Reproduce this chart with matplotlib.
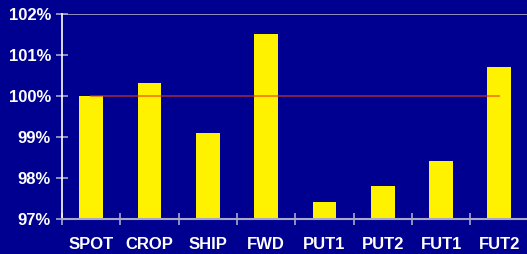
import numpy as np
import matplotlib
matplotlib.use('Agg')
import matplotlib.pyplot as plt

categories = ['SPOT', 'CROP', 'SHIP', 'FWD', 'PUT1', 'PUT2', 'FUT1', 'FUT2']
values = [100.0, 100.3, 99.1, 101.5, 97.4, 97.8, 98.4, 100.7]
reference = 100.0
ytick_vals = [97, 98, 99, 100, 101, 102]

bg = '#000090'
grey = '#a8a8c8'

plt.rcParams['font.family'] = ['Liberation Sans', 'DejaVu Sans']

fig = plt.figure(figsize=(5.27, 2.54), dpi=100, facecolor=bg)
ax = fig.add_axes([62 / 527, 35.3 / 254, 466.6 / 527, 205.2 / 254], facecolor=bg)

x = np.arange(len(categories))
ax.bar(x, np.array(values) - 97, bottom=97, width=0.41, color='#fff200', zorder=2)
ax.plot([x[0], x[-1]], [reference, reference], color='#e83818', alpha=0.6, lw=1.3, zorder=3)

ax.set_xlim(-0.5, len(categories) - 0.5)
ax.set_ylim(97, 102)

ax.set_yticks(ytick_vals)
ax.set_yticklabels([f'{v}%' for v in ytick_vals])
ax.tick_params(axis='y', direction='inout', length=8, width=1.2, color=grey,
               labelcolor='white', labelsize=12, pad=4)
for t in ax.get_yticklabels():
    t.set_fontweight('bold')

ax.set_xticks(x)
ax.set_xticklabels(categories, fontweight='bold')
ax.set_xticks(np.arange(len(categories) + 1) - 0.5, minor=True)
ax.tick_params(axis='x', which='major', length=0, labelcolor='white', labelsize=12, pad=13)
ax.tick_params(axis='x', which='minor', direction='inout', length=8, width=1.2, color=grey)

ax.axhline(102, color=grey, lw=1.2, zorder=1)
for s in ['top', 'right']:
    ax.spines[s].set_visible(False)
ax.spines['bottom'].set_color(grey)
ax.spines['bottom'].set_linewidth(1.5)
ax.spines['left'].set_color('white')
ax.spines['left'].set_linewidth(1.2)

fig.savefig('out.png', dpi=100, facecolor=bg)
